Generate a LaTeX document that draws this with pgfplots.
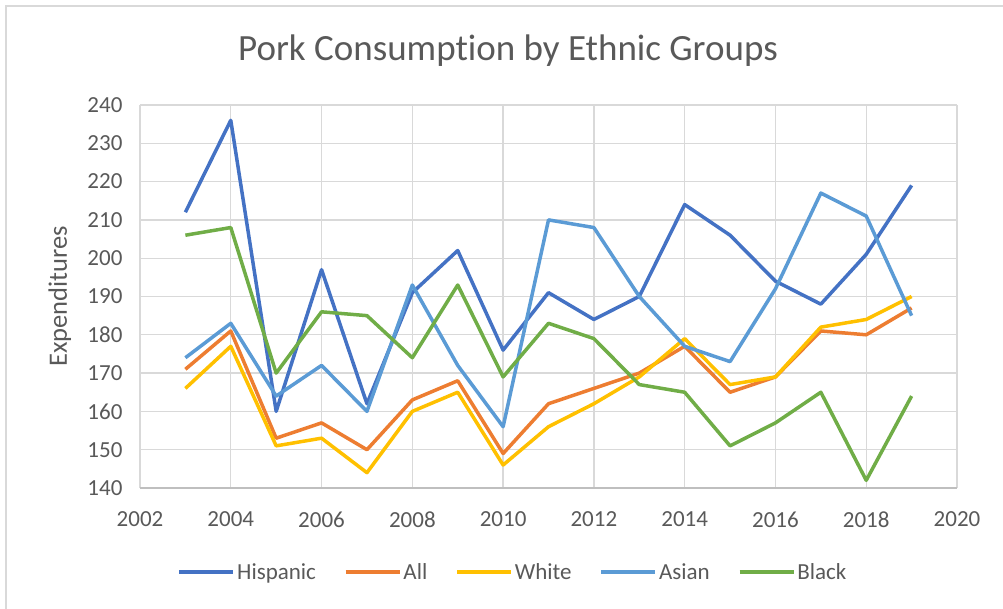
\documentclass[border=0pt]{standalone}
\usepackage{pgfplots}
\pgfplotsset{compat=1.18}
\usepackage{fontspec}
\setmainfont{Carlito}[Ligatures=NoCommon]
\definecolor{hisp}{HTML}{4472C4}
\definecolor{allc}{HTML}{ED7D31}
\definecolor{whitec}{HTML}{FFC000}
\definecolor{asian}{HTML}{5B9BD5}
\definecolor{black}{HTML}{70AD47}
\definecolor{gridc}{HTML}{D9D9D9}
\definecolor{axisc}{HTML}{BFBFBF}
\definecolor{txt}{HTML}{595959}
\begin{document}
\begin{tikzpicture}[x=1pt,y=1pt]
\useasboundingbox (0,0) rectangle (1003,609);
\draw[gridc, line width=1.5pt] (6,-20) -- (6,603) -- (1030,603);
\node[font=\fontsize{37}{44}\selectfont, text=txt] at (508,558) {Pork Consumption by Ethnic Groups};
\begin{axis}[
  at={(140pt,121pt)}, anchor=south west,
  scale only axis, width=817pt, height=383pt,
  xmin=2002, xmax=2020, ymin=140, ymax=240,
  xtick={2002,2004,...,2020}, ytick={140,150,...,240},
  grid=major, grid style={gridc, line width=1.3pt},
  axis x line=bottom, axis y line=left,
  x axis line style={-, draw=axisc, line width=1.3pt},
  y axis line style={draw=none},
  major tick length=0pt,
  tick label style={font=\fontsize{23}{27}\selectfont, text=txt},
  /pgf/number format/assume math mode=true,
  /pgf/number format/1000 sep={},
  xticklabel style={yshift=-20pt},
  yticklabel style={xshift=-14pt},
  ylabel={Expenditures},
  ylabel style={at={(axis description cs:-0.098,0.5)}, anchor=center, font=\fontsize{26.5}{30}\selectfont, text=txt},
  legend columns=5,
  legend style={at={(axis description cs:0.4565,-0.219)}, anchor=center, draw=none, fill=none,
    font=\fontsize{23}{27}\selectfont, text=txt,
    /tikz/every even column/.append style={column sep=26pt}},
  legend image code/.code={\draw[#1, line width=3.5pt] (0pt,0pt) -- (54pt,0pt);},
  every axis plot/.append style={line width=3.5pt, line join=round, no markers},
]
\addplot[hisp] coordinates {(2003,212) (2004,236) (2005,160) (2006,197) (2007,162) (2008,191) (2009,202) (2010,176) (2011,191) (2012,184) (2013,190) (2014,214) (2015,206) (2016,194) (2017,188) (2018,201) (2019,219)};
\addlegendentry{Hispanic}
\addplot[allc] coordinates {(2003,171) (2004,181) (2005,153) (2006,157) (2007,150) (2008,163) (2009,168) (2010,149) (2011,162) (2012,166) (2013,170) (2014,177) (2015,165) (2016,169) (2017,181) (2018,180) (2019,187)};
\addlegendentry{All}
\addplot[whitec] coordinates {(2003,166) (2004,177) (2005,151) (2006,153) (2007,144) (2008,160) (2009,165) (2010,146) (2011,156) (2012,162) (2013,169) (2014,179) (2015,167) (2016,169) (2017,182) (2018,184) (2019,190)};
\addlegendentry{White}
\addplot[asian] coordinates {(2003,174) (2004,183) (2005,164) (2006,172) (2007,160) (2008,193) (2009,172) (2010,156) (2011,210) (2012,208) (2013,190) (2014,177) (2015,173) (2016,192) (2017,217) (2018,211) (2019,185)};
\addlegendentry{Asian}
\addplot[black] coordinates {(2003,206) (2004,208) (2005,170) (2006,186) (2007,185) (2008,174) (2009,193) (2010,169) (2011,183) (2012,179) (2013,167) (2014,165) (2015,151) (2016,157) (2017,165) (2018,142) (2019,164)};
\addlegendentry{Black}
\end{axis}
\end{tikzpicture}
\end{document}
